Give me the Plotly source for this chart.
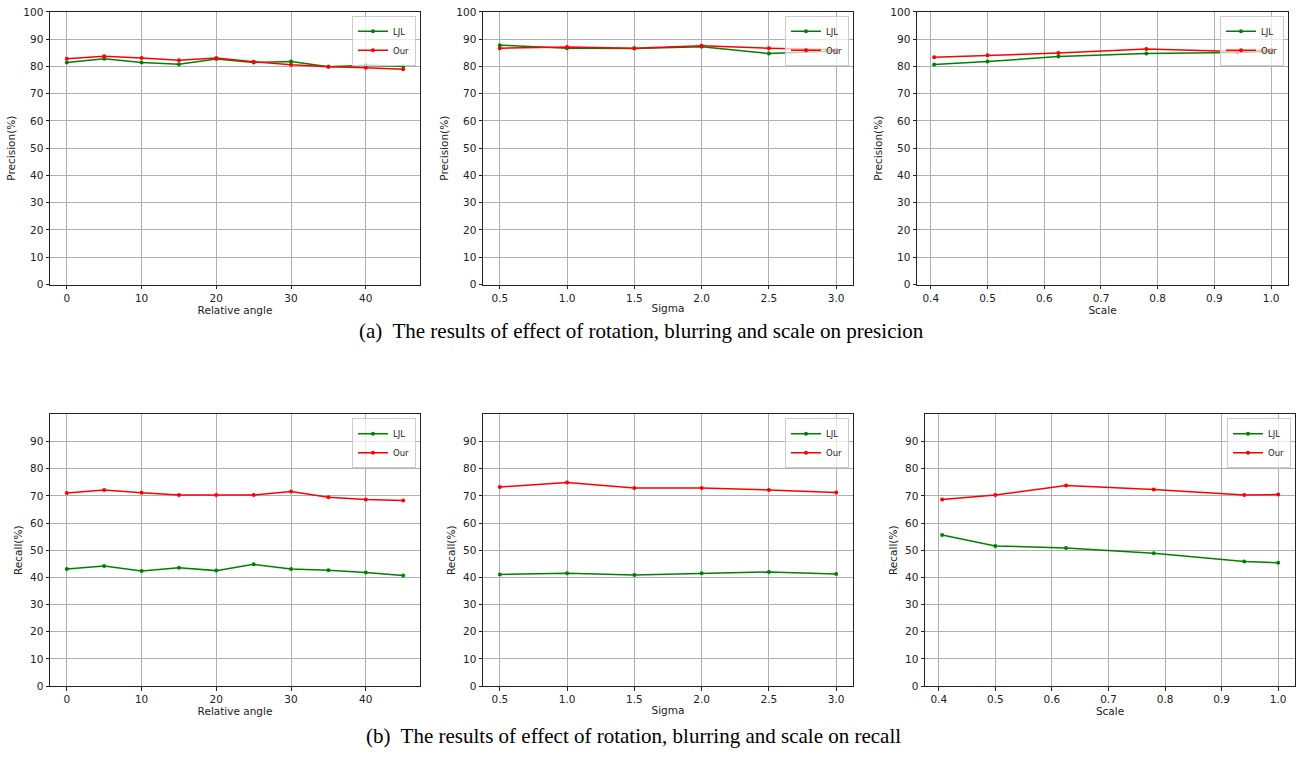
import plotly.graph_objects as go
from plotly.subplots import make_subplots

# ---------------- data ----------------
angle = [0, 5, 10, 15, 20, 25, 30, 35, 40, 45]
sigma = [0.5, 1.0, 1.5, 2.0, 2.5, 3.0]
scale = [0.406, 0.5, 0.625, 0.78, 0.94, 1.0]

prec_angle_ljl = [81.4, 82.8, 81.4, 80.8, 82.7, 81.4, 81.8, 79.9, 80.4, 80.1]
prec_angle_our = [82.8, 83.7, 83.1, 82.3, 83.1, 81.7, 80.6, 79.9, 79.5, 79.0]
prec_sigma_ljl = [87.8, 86.7, 86.6, 87.2, 84.7, 85.7]
prec_sigma_our = [86.7, 87.1, 86.7, 87.6, 86.7, 86.1]
prec_scale_ljl = [80.7, 81.8, 83.6, 84.7, 85.1, 85.5]
prec_scale_our = [83.4, 84.1, 84.9, 86.4, 85.5, 86.1]

rec_angle_ljl = [43.1, 44.2, 42.4, 43.6, 42.5, 44.8, 43.1, 42.6, 41.8, 40.7]
rec_angle_our = [71.1, 72.2, 71.2, 70.3, 70.3, 70.3, 71.6, 69.5, 68.7, 68.3]
rec_sigma_ljl = [41.1, 41.5, 40.9, 41.5, 42.0, 41.3]
rec_sigma_our = [73.3, 74.9, 72.9, 72.9, 72.2, 71.3]
rec_scale_ljl = [55.6, 51.6, 50.8, 48.9, 45.9, 45.4]
rec_scale_our = [68.7, 70.3, 73.8, 72.4, 70.3, 70.5]

series_names = ["LJL", "Our"]
x_titles = ["Relative angle", "Sigma", "Scale"]
y_titles = ["Precision(%)", "Recall(%)"]
captions = ["(a)  The results of effect of rotation, blurring and scale on presicion",
            "(b)  The results of effect of rotation, blurring and scale on recall"]

# ---------------- layout geometry ----------------
W, H = 1299, 758
xdom_px = {
    (1, 1): (50, 420), (1, 2): (483, 853), (1, 3): (917, 1288),
    (2, 1): (50, 420), (2, 2): (483, 853), (2, 3): (925, 1295),
}
ydom_px = {1: (6, 283), 2: (415, 691)}

xranges = [[-2.25, 47.25], [0.375, 3.125], [0.3757, 1.0297]]
xticks = [
    ([0, 10, 20, 30, 40], ["0", "10", "20", "30", "40"]),
    ([0.5, 1.0, 1.5, 2.0, 2.5, 3.0], ["0.5", "1.0", "1.5", "2.0", "2.5", "3.0"]),
    ([0.4, 0.5, 0.6, 0.7, 0.8, 0.9, 1.0], ["0.4", "0.5", "0.6", "0.7", "0.8", "0.9", "1.0"]),
]

fig = make_subplots(rows=2, cols=3)

GREEN = "#008000"
RED = "#ff0000"
FONT = "DejaVu Sans"
FS = 10.5

panels = [
    (1, 1, angle, prec_angle_ljl, prec_angle_our),
    (1, 2, sigma, prec_sigma_ljl, prec_sigma_our),
    (1, 3, scale, prec_scale_ljl, prec_scale_our),
    (2, 1, angle, rec_angle_ljl, rec_angle_our),
    (2, 2, sigma, rec_sigma_ljl, rec_sigma_our),
    (2, 3, scale, rec_scale_ljl, rec_scale_our),
]

layout_upd = {}
for i, (r, c, xs, ljl, our) in enumerate(panels):
    idx = i + 1
    legname = "legend" if idx == 1 else f"legend{idx}"
    for name, ys, col in ((series_names[0], ljl, GREEN), (series_names[1], our, RED)):
        fig.add_trace(
            go.Scatter(
                x=xs, y=ys, name=name, mode="lines+markers",
                line=dict(color=col, width=1.5),
                marker=dict(color=col, size=4),
                legend=legname,
            ),
            row=r, col=c,
        )
    x0, x1 = xdom_px[(r, c)]
    y0, y1 = ydom_px[r]
    xa = "xaxis" if idx == 1 else f"xaxis{idx}"
    ya = "yaxis" if idx == 1 else f"yaxis{idx}"
    tv, tt = xticks[c - 1]
    layout_upd[xa] = dict(
        domain=[x0 / W, x1 / W], range=xranges[c - 1],
        tickvals=tv, ticktext=tt, ticklabeloverflow="allow",
        showline=True, linecolor="#222222", linewidth=1, mirror=True,
        ticks="outside", ticklen=3.5, tickcolor="#222222",
        showgrid=True, gridcolor="#b0b0b0", gridwidth=0.8, zeroline=False,
        tickfont=dict(family=FONT, size=FS, color="#222222"),
        title=dict(text=x_titles[c - 1], font=dict(family=FONT, size=FS, color="#222222"), standoff=2),
    )
    ytv = list(range(0, 101, 10)) if r == 1 else list(range(0, 91, 10))
    layout_upd[ya] = dict(
        domain=[1 - y1 / H, 1 - y0 / H], range=[0, 100],
        tickvals=ytv, ticktext=[str(v) for v in ytv], ticklabeloverflow="allow",
        showline=True, linecolor="#222222", linewidth=1, mirror=True,
        ticks="outside", ticklen=3.5, tickcolor="#222222",
        showgrid=True, gridcolor="#b0b0b0", gridwidth=0.8, zeroline=False,
        tickfont=dict(family=FONT, size=FS, color="#222222"),
        title=dict(text=y_titles[r - 1], font=dict(family=FONT, size=FS, color="#222222"), standoff=5),
    )
    layout_upd[legname] = dict(
        x=(x1 - 4) / W, y=1 - (y0 + 4) / H, xanchor="right", yanchor="top",
        xref="paper", yref="paper",
        bgcolor="rgba(255,255,255,0.7)", bordercolor="#cccccc", borderwidth=1,
        font=dict(family=FONT, size=8.5, color="#222222"),
        itemwidth=30, tracegroupgap=0,
    )

fig.update_layout(**layout_upd)

fig.add_annotation(text=captions[0], x=641 / W, y=1 - 330 / H, xref="paper", yref="paper",
                   xanchor="center", yanchor="middle", showarrow=False,
                   font=dict(family="Liberation Serif", size=21, color="black"))
fig.add_annotation(text=captions[1], x=633 / W, y=1 - 742 / H, xref="paper", yref="paper",
                   xanchor="center", yanchor="middle", showarrow=False,
                   font=dict(family="Liberation Serif", size=21, color="black"))

fig.update_layout(
    width=W, height=H, margin=dict(l=0, r=0, t=0, b=0),
    paper_bgcolor="white", plot_bgcolor="white",
    showlegend=True,
)

fig.write_html(
    "out.html",
    config={"displayModeBar": False},
    post_script="document.body.style.margin='0';document.body.style.padding='0';document.body.style.overflow='hidden';",
)
